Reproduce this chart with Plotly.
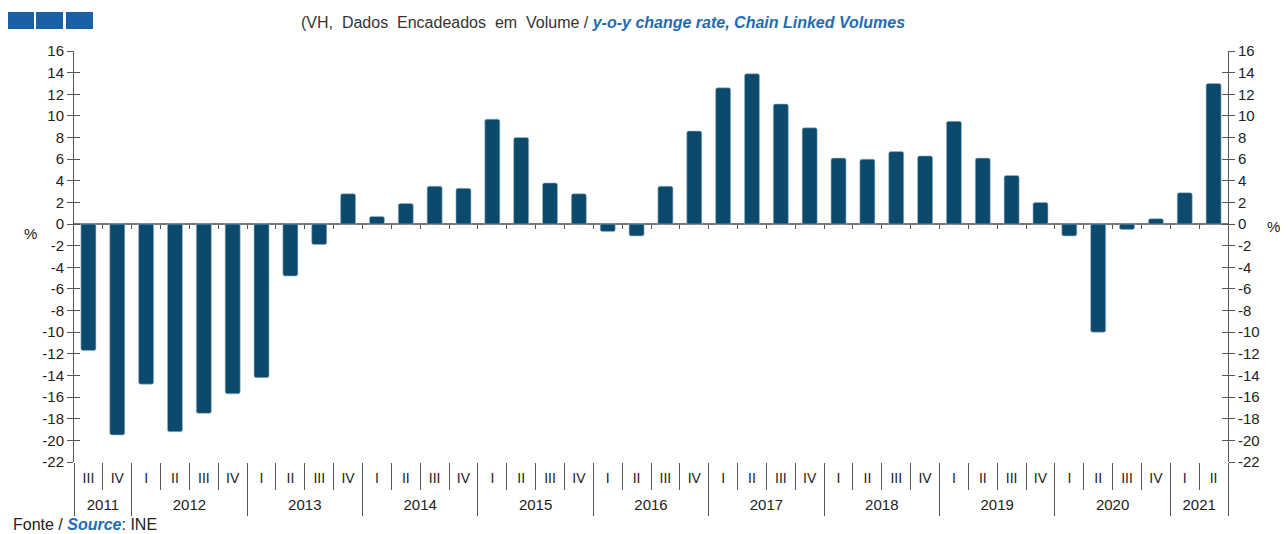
import plotly.graph_objects as go

years = ["2011"] * 2 + [y for y in ["2012", "2013", "2014", "2015", "2016", "2017", "2018", "2019", "2020"] for _ in range(4)] + ["2021"] * 2
quarters = ["III", "IV"] + ["I", "II", "III", "IV"] * 9 + ["I", "II"]
values = [
    -11.7, -19.5,
    -14.8, -19.2, -17.5, -15.7,
    -14.2, -4.8, -1.9, 2.8,
    0.7, 1.9, 3.5, 3.3,
    9.7, 8.0, 3.8, 2.8,
    -0.7, -1.1, 3.5, 8.6,
    12.6, 13.9, 11.1, 8.9,
    6.1, 6.0, 6.7, 6.3,
    9.5, 6.1, 4.5, 2.0,
    -1.1, -10.0, -0.5, 0.5,
    2.9, 13.0,
]
y_ticks = list(range(-22, 17, 2))
y_min, y_max = -22, 16

BAR = "#0b4a6c"
AX = "#555555"
FONT = "Liberation Sans, Arial, sans-serif"

n = len(values)
idx = list(range(n))

# year groups computed from the data lists
year_names, year_start, year_end = [], [], []
for i, y in enumerate(years):
    if not year_names or year_names[-1] != y:
        year_names.append(y)
        year_start.append(i)
        year_end.append(i)
    else:
        year_end[-1] = i
year_centers = [(s + e) / 2 for s, e in zip(year_start, year_end)]
year_bounds = [s - 0.5 for s in year_start] + [year_end[-1] + 0.5]
quarter_bounds = [i - 0.5 for i in range(n + 1)]

fig = go.Figure()
fig.add_trace(go.Bar(
    x=idx, y=values, customdata=[f"{q} {y}" for q, y in zip(quarters, years)],
    marker=dict(color=BAR, line=dict(color="#9fb8c8", width=0.6), cornerradius=2),
    hovertemplate="%{customdata}: %{y}<extra></extra>", showlegend=False,
))
# invisible helper traces so overlay axes are drawn
for xa, ya in [("x2", "y"), ("x3", "y"), ("x4", "y"), ("x5", "y"), ("x", "y2"), ("x", "y3"), ("x", "y4")]:
    fig.add_trace(go.Scatter(x=[0], y=[0], xaxis=xa, yaxis=ya, mode="markers",
                             marker=dict(opacity=0), hoverinfo="skip", showlegend=False))

zero_pos = (0 - y_min) / (y_max - y_min)
xr = [-0.5, n - 0.5]
common_x = dict(range=xr, showgrid=False, zeroline=False, showline=False)

fig.update_layout(
    width=1280, height=526,
    margin=dict(l=66, r=60, t=43, b=72),
    paper_bgcolor="white", plot_bgcolor="white",
    font=dict(family=FONT, size=15, color="#222222"),
    bargap=0.48,
    xaxis=dict(**common_x, tickvals=idx, ticktext=quarters, ticks="", ticklabelstandoff=6,
               tickfont=dict(size=14, color="#222222", family=FONT)),
    xaxis2=dict(**common_x, overlaying="x", anchor="free", position=zero_pos,
                tickvals=quarter_bounds[1:-1], ticks="outside", ticklen=4, tickcolor=AX,
                showticklabels=False),
    xaxis3=dict(**common_x, overlaying="x", anchor="y", side="bottom",
                tickvals=quarter_bounds, ticks="outside", ticklen=27, tickcolor=AX,
                showticklabels=False),
    xaxis4=dict(**common_x, overlaying="x", anchor="y", side="bottom",
                tickvals=year_bounds, ticks="outside", ticklen=53, tickcolor=AX,
                showticklabels=False),
    xaxis5=dict(**common_x, overlaying="x", anchor="y", side="bottom",
                tickvals=year_centers, ticktext=year_names, ticks="", ticklabelstandoff=32,
                tickfont=dict(size=15, color="#222222", family=FONT)),
    yaxis=dict(
        range=[y_min, y_max], tickvals=y_ticks, ticktext=[str(v) for v in y_ticks],
        ticks="outside", ticklen=6, tickcolor=AX, showline=True, linecolor=AX, linewidth=1,
        showgrid=False, zeroline=True, zerolinecolor="#777777", zerolinewidth=1.5,
        tickfont=dict(size=15, family=FONT, color="#222222"),
    ),
    yaxis2=dict(
        overlaying="y", side="right", anchor="x", range=[y_min, y_max], tickvals=y_ticks,
        ticktext=[str(v) for v in y_ticks], ticks="outside", ticklen=6, tickcolor=AX,
        showline=True, linecolor=AX, linewidth=1, showgrid=False, zeroline=False,
        tickfont=dict(size=15, family=FONT, color="#222222"),
    ),
    yaxis3=dict(
        overlaying="y", side="left", anchor="x", range=[y_min, y_max], tickvals=y_ticks,
        ticks="inside", ticklen=6, tickcolor=AX, showticklabels=False, showline=False,
        showgrid=False, zeroline=False,
    ),
    yaxis4=dict(
        overlaying="y", side="right", anchor="x", range=[y_min, y_max], tickvals=y_ticks,
        ticks="inside", ticklen=6, tickcolor=AX, showticklabels=False, showline=False,
        showgrid=False, zeroline=False,
    ),
)

# Title
fig.add_annotation(
    xref="paper", yref="paper", x=(603 - 74) / 1154, y=1, yshift=29, xanchor="center", yanchor="middle",
    showarrow=False, font=dict(size=16, family=FONT, color="#333333"),
    text="(VH,&nbsp; Dados&nbsp; Encadeados&nbsp; em&nbsp; Volume / <b><i><span style='color:#1f6cb0'>y-o-y change rate, Chain Linked Volumes</span></i></b>",
)
# % labels
fig.add_annotation(xref="paper", yref="paper", x=0, xshift=-52, y=zero_pos, yshift=-9,
                   showarrow=False, text="%", font=dict(size=15, family=FONT, color="#222222"))
fig.add_annotation(xref="paper", yref="paper", x=1, xshift=54, y=zero_pos, yshift=-2,
                   showarrow=False, text="%", font=dict(size=15, family=FONT, color="#222222"))
# Source
fig.add_annotation(
    xref="paper", yref="paper", x=0, xshift=-63, y=-(514 - 462) / 411, xanchor="left", yanchor="top",
    showarrow=False, font=dict(size=16, family=FONT, color="#222222"),
    text="Fonte / <b><i><span style='color:#1f6cb0'>Source</span></i></b>: INE",
)
# Decorative squares
for x0 in [7, 36, 66]:
    fig.add_shape(type="rect", xref="paper", yref="paper",
                  x0=(x0 - 74) / 1154, x1=(x0 + 27 - 74) / 1154,
                  y0=(462 - 29) / 411, y1=(462 - 12) / 411,
                  fillcolor="#1a60a6", line=dict(width=0), layer="above")

fig.write_html("out.html")
